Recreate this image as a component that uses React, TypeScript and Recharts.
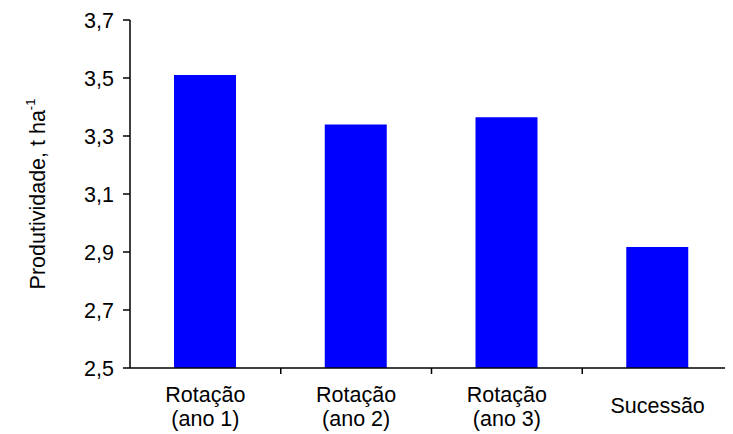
import { BarChart, Bar, XAxis, YAxis } from 'recharts';

const CATEGORIES = ['Rotação|(ano 1)', 'Rotação|(ano 2)', 'Rotação|(ano 3)', 'Sucessão'];
const PRODUTIVIDADE = [3.51, 3.34, 3.365, 2.917];
const Y_TICKS = [2.5, 2.7, 2.9, 3.1, 3.3, 3.5, 3.7];

const WIDTH = 725;
const HEIGHT = 426;
const Y_AXIS_W = 122;
const BAND = (WIDTH - Y_AXIS_W) / CATEGORIES.length;
const FONT = '"Liberation Sans", Arial, sans-serif';
const FS = 21.5;

const data = CATEGORIES.map((c, i) => ({ name: c, value: PRODUTIVIDADE[i] }));

function CategoryTick(props: any) {
  const { x, y, payload, index } = props;
  const lines = String(payload.value).split('|');
  const single = lines.length === 1;
  return (
    <g>
      {index < CATEGORIES.length - 1 && (
        <line
          x1={x + BAND / 2}
          x2={x + BAND / 2}
          y1={y}
          y2={y + 6}
          stroke="#000"
          strokeWidth={1.5}
        />
      )}
      {lines.map((l, i) => (
        <text
          key={i}
          x={x}
          y={single ? y + 45 : y + 34 + i * 24}
          textAnchor="middle"
          fontFamily={FONT}
          fontSize={FS}
          fill="#000"
        >
          {l}
        </text>
      ))}
    </g>
  );
}

function YLabel(props: any) {
  const { viewBox } = props;
  const cx = 30;
  const cy = viewBox.y + viewBox.height / 2;
  return (
    <text
      x={cx}
      y={cy}
      transform={`rotate(-90, ${cx}, ${cy})`}
      textAnchor="middle"
      dominantBaseline="central"
      fontFamily={FONT}
      fontSize={FS}
      fill="#000"
    >
      Produtividade, t ha
      <tspan fontSize={13} dy={-8}>
        -1
      </tspan>
    </text>
  );
}

export default function App() {
  return (
    <BarChart
      width={WIDTH}
      height={HEIGHT}
      data={data}
      margin={{ top: 12, right: 0, left: 0, bottom: 0 }}
    >
      <XAxis
        dataKey="name"
        height={66}
        axisLine={{ stroke: '#000', strokeWidth: 1.5 }}
        tickLine={false}
        tickSize={0}
        tickMargin={0}
        interval={0}
        tick={<CategoryTick />}
      />
      <YAxis
        width={Y_AXIS_W}
        domain={[2.5, 3.7]}
        ticks={Y_TICKS}
        allowDataOverflow
        axisLine={{ stroke: '#000', strokeWidth: 1.5 }}
        tickLine={{ stroke: '#000', strokeWidth: 1.5 }}
        tickSize={7}
        tickMargin={9}
        tick={{ fill: '#000', fontSize: FS, fontFamily: FONT }}
        tickFormatter={(v: number) => v.toFixed(1).replace('.', ',')}
        label={<YLabel />}
      />
      <Bar dataKey="value" fill="#0000FF" barSize={62} isAnimationActive={false} />
    </BarChart>
  );
}
